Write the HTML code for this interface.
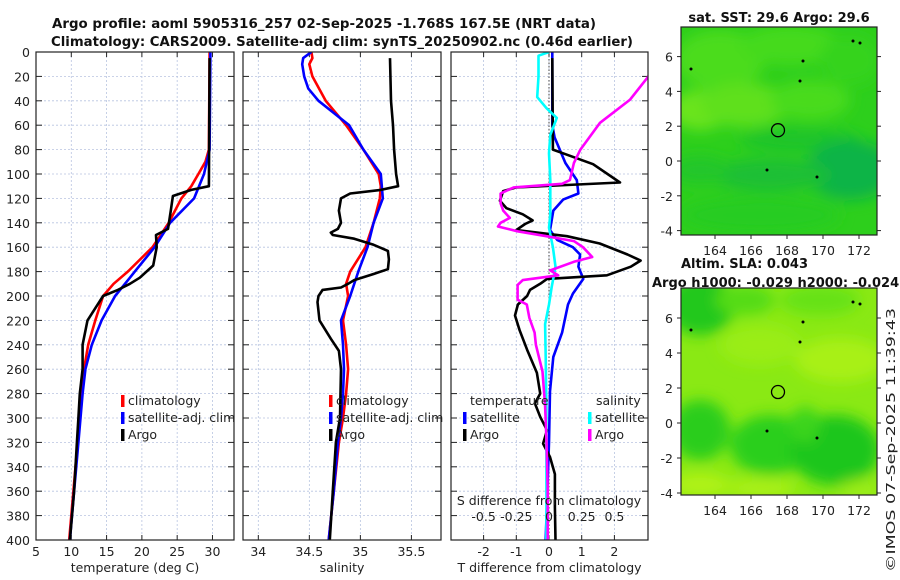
<!DOCTYPE html>
<html><head><meta charset="utf-8">
<style>
html,body{margin:0;padding:0;background:#fff;}
svg{display:block;font-family:"DejaVu Sans","Liberation Sans",sans-serif;}
.t{font-size:12.5px;fill:#222;}
.b{font-weight:bold;font-size:13px;fill:#111;}
</style></head><body>
<svg id="fig" width="900" height="580" viewBox="0 0 900 580" xmlns="http://www.w3.org/2000/svg">
<defs>
<clipPath id="c1"><rect x="36" y="52" width="198" height="488"/></clipPath>
<clipPath id="c2"><rect x="243" y="52" width="198" height="488"/></clipPath>
<clipPath id="c3"><rect x="451" y="52" width="197" height="488"/></clipPath>
<clipPath id="cm1"><rect x="681" y="27" width="196" height="208"/></clipPath>
<clipPath id="cm2"><rect x="681" y="288" width="196" height="207"/></clipPath>
<filter id="blur" x="-20%" y="-20%" width="140%" height="140%"><feGaussianBlur stdDeviation="7"/></filter>
</defs>
<text class="b" x="324" y="28" text-anchor="middle" textLength="544" lengthAdjust="spacingAndGlyphs">Argo profile: aoml 5905316_257 02-Sep-2025 -1.768S 167.5E (NRT data)</text>
<text class="b" x="342" y="46" text-anchor="middle" textLength="582" lengthAdjust="spacingAndGlyphs">Climatology: CARS2009. Satellite-adj clim: synTS_20250902.nc (0.46d earlier)</text>
<g id="maps"></g>
<g id="g"></g>
<text class="t" transform="translate(895,440) rotate(-90)" text-anchor="middle" textLength="264" lengthAdjust="spacingAndGlyphs">©IMOS 07-Sep-2025 11:39:43</text>
</svg>
<script>
// ---- data ----
const depthTicks=[0,20,40,60,80,100,120,140,160,180,200,220,240,260,280,300,320,340,360,380,400];
const tTicks=[5,10,15,20,25,30];
const sTicks=[34,34.5,35,35.5];
const sTickLabels=["34","34.5","35","35.5"];
const dTTicks=[-2,-1,0,1,2];
const dSTicks=[-0.5,-0.25,0,0.25,0.5];
const dSTickLabels=["-0.5","-0.25","0","0.25","0.5"];
// temperature
const climTDepth=[0,80,90,100,110,120,140,160,180,190,200,220,240,260,280,320,360,400];
const climT=[29.6,29.5,29.0,28.0,27.0,25.6,23.8,21.5,18.0,16.0,14.5,13.4,12.4,11.8,11.5,10.9,10.3,9.7];
const satTDepth=[0,80,100,120,140,160,180,200,220,240,260,280,320,360,400];
const satT=[29.7,29.6,28.8,27.4,24.0,21.8,19.0,16.2,14.3,12.9,12.0,11.6,11.0,10.4,9.8];
const argoTDepth=[5,110,113,118,130,145,150,160,175,185,190,195,200,210,220,240,260,280,300,320,360,400];
const argoT=[29.6,29.5,27.0,24.4,24.1,23.7,22.0,22.1,21.6,19.7,18.3,16.6,14.5,13.4,12.3,11.6,11.6,11.2,11.0,10.8,10.4,9.8];
// salinity
const climSDepth=[0,5,10,20,40,60,80,100,110,120,140,160,180,190,200,220,240,260,280,300,320,360,400];
const climS=[34.52,34.53,34.50,34.53,34.66,34.86,35.03,35.18,35.20,35.19,35.13,35.05,34.90,34.86,34.88,34.83,34.86,34.88,34.86,34.83,34.79,34.74,34.69];
const satSDepth=[0,5,10,20,30,40,50,60,80,100,120,140,160,180,200,220,240,260,280,300,320,360,400];
const satS=[34.52,34.44,34.43,34.45,34.49,34.59,34.74,34.89,35.03,35.20,35.22,35.13,35.07,34.98,34.90,34.81,34.83,34.84,34.83,34.81,34.78,34.74,34.69];
const argoSDepth=[5,40,60,80,100,110,113,116,120,130,140,145,148,150,153,158,163,170,178,182,187,190,193,195,200,205,220,235,245,260,300,320,360,400];
const argoS=[35.29,35.30,35.32,35.33,35.35,35.37,35.20,34.90,34.81,34.79,34.81,34.78,34.71,34.73,34.94,35.13,35.27,35.28,35.27,35.13,34.94,34.88,34.81,34.63,34.59,34.58,34.60,34.71,34.79,34.81,34.80,34.76,34.73,34.70];
// differences
const satDTDepth=[0,60,70,91,105,116,121,130,146,154,160,166,176,186,198,207,230,250,278,320,400];
const satDT=[0.1,0.1,0.17,0.5,0.85,0.9,0.43,0.13,0.03,0.25,0.73,0.95,0.9,1.05,0.73,0.58,0.4,0.13,0.03,0,-0.1];
const argoDTDepth=[5,80,83,92,107,109,111,114,122,128,133,138,141,146,151,157,166,171,176,183,186,190,195,200,207,216,228,244,263,280,288,299,310,321,332,346,373,400];
const argoDT=[0.1,0.12,0.43,1.35,2.17,0.55,-1.0,-1.4,-1.5,-1.3,-0.8,-0.5,-0.73,-1.0,0.55,1.55,2.4,2.8,2.5,1.77,-0.06,-0.27,-0.58,-0.67,-0.95,-1.04,-0.9,-0.67,-0.37,-0.27,-0.43,-0.27,-0.06,-0.18,0.03,0.18,0.18,0.2];
const satDSDepth=[0,3,20,37,46,54,68,83,105,133,144,160,176,193,207,223,250,291,373,400];
const satDS=[0,-0.08,-0.08,-0.09,-0.02,0.06,0.01,0,0.01,0.01,0,0.03,0.05,0.02,0,-0.03,-0.025,-0.02,-0.02,-0.02];
const argoDSDepth=[5,20,39,58,80,91,105,108,111,116,124,130,136,140,143,147,151,155,160,168,172,179,183,187,191,203,207,218,230,240,262,290,317,358,400];
const argoDS=[0.8,0.76,0.62,0.39,0.24,0.19,0.16,0.1,-0.27,-0.37,-0.37,-0.35,-0.3,-0.37,-0.39,-0.24,-0.02,0.19,0.26,0.33,0.19,0.01,0.07,-0.2,-0.24,-0.24,-0.17,-0.15,-0.11,-0.1,-0.05,-0.03,-0.02,-0.01,-0.01];
// map axes
const lonTicks=[164,166,168,170,172];
const latTicks=[-4,-2,0,2,4,6];
const argoLon=167.5, argoLat=1.77;

// ---- scales ----
const NS="http://www.w3.org/2000/svg";
const g=document.getElementById('g');
const Y0=52,Y1=540;
const yD=d=>Y0+(d/400)*(Y1-Y0);
const xT=v=>36+(v-5)*(198/28.05);
const xS=v=>243+(v-33.85)*(198/1.94);
const xDT=v=>549+v*32.7;
const xDS=v=>549+v*130.8;
const xLon=v=>715+(v-164)*18;
const yLat1=v=>161-v*17.4;
const yLat2=v=>423-v*17.5;
function el(tag,attrs,parent){const e=document.createElementNS(NS,tag);for(const k in attrs)e.setAttribute(k,attrs[k]);(parent||g).appendChild(e);return e;}
function txt(s,x,y,anchor,parent,cls){const e=el('text',{x:x,y:y,'text-anchor':anchor||'middle','class':cls||'t'},parent);e.textContent=s;return e;}

function panel(x0,w,xf,ticks,labels,clip,title,name){
  const pg=el('g',{});
  
  
  depthTicks.forEach(d=>{el('line',{x1:x0,x2:x0+w,y1:yD(d),y2:yD(d),stroke:'#b8c4e0','stroke-width':0.8,'stroke-dasharray':'2,2'},pg);});
  ticks.forEach(v=>{el('line',{x1:xf(v),x2:xf(v),y1:Y0,y2:Y1,stroke:'#b8c4e0','stroke-width':0.8,'stroke-dasharray':'2,2'},pg);});
  depthTicks.forEach(d=>{el('line',{x1:x0,x2:x0+6,y1:yD(d),y2:yD(d),stroke:'#222'},pg);el('line',{x1:x0+w-6,x2:x0+w,y1:yD(d),y2:yD(d),stroke:'#222'},pg);});
  ticks.forEach((v,i)=>{el('line',{x1:xf(v),x2:xf(v),y1:Y1,y2:Y1-5,stroke:'#222'},pg);el('line',{x1:xf(v),x2:xf(v),y1:Y0,y2:Y0+5,stroke:'#222'},pg);
    const l=txt(labels[i],xf(v),556,'middle',pg);
    
    });
  const t=txt(title,x0+w/2,572,'middle',pg);
  
  
  return pg;
}
function series(depths,vals,xf,color,clip,name,parent){
  let d='';depths.forEach((dep,i)=>{d+=(i?'L':'M')+xf(vals[i]).toFixed(1)+','+yD(dep).toFixed(1);});
  const p=el('path',{d:d,fill:'none',stroke:color,'stroke-width':2.6,'stroke-linejoin':'round','clip-path':'url(#'+clip+')'},parent);
  
  
}
function frame(x0,w,pg){el('rect',{x:x0,y:Y0,width:w,height:Y1-Y0,fill:'none',stroke:'#222','stroke-width':1.2},pg);}
function legendItem(x,y,color,label,pg,name){
  el('rect',{x:x-2,y:y-10,width:3.5,height:12,fill:color},pg);
  const t=txt(label,x+5,y,'start',pg);
  
  
}

depthTicks.forEach(d=>{const t=txt(String(d),30,yD(d)+5,'end');
  
  });

// Panel 1
const p1=panel(36,198,xT,tTicks,tTicks.map(String),'c1','temperature (deg C)','temperature-panel');
series(climTDepth,climT,xT,'#ff0000','c1','clim-temperature-line',p1);
series(satTDepth,satT,xT,'#0000ff','c1','sat-temperature-line',p1);
series(argoTDepth,argoT,xT,'#000000','c1','argo-temperature-line',p1);
frame(36,198,p1);
legendItem(123,405,'#ff0000','climatology',p1,'legend-climatology');
legendItem(123,422,'#0000ff','satellite-adj. clim',p1,'legend-satellite');
legendItem(123,439,'#000000','Argo',p1,'legend-argo');

// Panel 2
const p2=panel(243,198,xS,sTicks,sTickLabels,'c2','salinity','salinity-panel');
series(climSDepth,climS,xS,'#ff0000','c2','clim-salinity-line',p2);
series(satSDepth,satS,xS,'#0000ff','c2','sat-salinity-line',p2);
series(argoSDepth,argoS,xS,'#000000','c2','argo-salinity-line',p2);
frame(243,198,p2);
legendItem(331,405,'#ff0000','climatology',p2,'legend-climatology');
legendItem(331,422,'#0000ff','satellite-adj. clim',p2,'legend-satellite');
legendItem(331,439,'#000000','Argo',p2,'legend-argo');

// Panel 3
const p3=panel(451,197,xDT,dTTicks,dTTicks.map(String),'c3','T difference from climatology','difference-panel');
el('line',{x1:xDT(0),x2:xDT(0),y1:Y0,y2:Y1,stroke:'#444','stroke-width':1,'stroke-dasharray':'1.5,2'},p3);
series(satDTDepth,satDT,xDT,'#0000ff','c3','sat-temp-diff-line',p3);
series(argoDTDepth,argoDT,xDT,'#000000','c3','argo-temp-diff-line',p3);
series(satDSDepth,satDS,xDS,'#00ffff','c3','sat-sal-diff-line',p3);
series(argoDSDepth,argoDS,xDS,'#ff00ff','c3','argo-sal-diff-line',p3);
frame(451,197,p3);
let tt=txt('temperature',470,405,'start',p3);
legendItem(465,422,'#0000ff','satellite',p3,'legend-temp-satellite');
legendItem(465,439,'#000000','Argo',p3,'legend-temp-argo');
let ts=txt('salinity',596,405,'start',p3);
legendItem(590,422,'#00ffff','satellite',p3,'legend-sal-satellite');
legendItem(590,439,'#ff00ff','Argo',p3,'legend-sal-argo');
let st=txt('S difference from climatology',549,505,'middle',p3);
dSTicks.forEach((v,i)=>{const l=txt(dSTickLabels[i],xDS(v),521,'middle',p3);
  
  });

// ---- maps ----
const mg=document.getElementById('maps');
function map(y0,h,yLat,clip,base,blobs,name,cdots){
  const m=el('g',{},mg);
  
  
  el('rect',{x:681,y:y0,width:196,height:h,fill:base},m);
  const bg=el('g',{'clip-path':'url(#'+clip+')'},m);
  const inner=el('g',{filter:'url(#blur)'},bg);
  blobs.forEach(b=>el('ellipse',{cx:b[0],cy:b[1],rx:b[2],ry:b[3],fill:b[4]},inner));
  cdots.forEach(c=>el('circle',{cx:c[0],cy:c[1],r:1.5,fill:'#000'},bg));
  const c=el('circle',{cx:xLon(argoLon),cy:yLat(argoLat),r:6.5,fill:'none',stroke:'#000','stroke-width':1.3},m);
  
  
  el('rect',{x:681,y:y0,width:196,height:h,fill:'none',stroke:'#222','stroke-width':1.2},m);
  lonTicks.forEach(v=>{el('line',{x1:xLon(v),x2:xLon(v),y1:y0+h,y2:y0+h+4,stroke:'#222'},m);
    const l=txt(String(v),xLon(v),y0+h+20,'middle',m);
    
    });
  latTicks.forEach(v=>{el('line',{x1:677,x2:681,y1:yLat(v),y2:yLat(v),stroke:'#222'},m);el('line',{x1:877,x2:881,y1:yLat(v),y2:yLat(v),stroke:'#222'},m);
    const l=txt(String(v),673,yLat(v)+5,'end',m);
    
    });
}
map(27,208,yLat1,'cm1','#2dcf1c',[
 [720,60,45,30,'#4cdc1a'],[790,45,50,20,'#45da1a'],[700,110,30,20,'#6ae41a'],[745,105,45,22,'#5ee01a'],[810,100,40,20,'#49db1a'],
 [850,60,30,25,'#35d31c'],[800,140,60,12,'#1fc42a'],[850,170,45,30,'#10b446'],[770,175,60,16,'#1abf34'],[700,170,30,14,'#22c62a'],
 [760,215,80,18,'#26cc20']
],'sst-map',[[691,69],[853,41],[860,43],[803,61],[767,170],[817,177],[800,81]]);
map(288,207,yLat2,'cm2','#8ae914',[
 [700,305,35,30,'#22c81c'],[745,300,30,15,'#55dc18'],[820,300,40,15,'#66e216'],[760,345,40,20,'#9aed12'],[840,360,45,22,'#a8f012'],
 [700,430,30,30,'#2ccd1c'],[770,445,40,30,'#2ccf1c'],[835,450,45,35,'#1fc61c'],[805,425,15,18,'#3ad41a'],
 [700,485,30,12,'#b0f212'],[760,488,35,10,'#aaf012'],[860,490,20,10,'#9ced12']
],'sla-map',[[691,330],[853,302],[860,304],[803,322],[767,431],[817,438],[800,342]]);
let m1=txt('sat. SST: 29.6 Argo: 29.6',779,22,'middle',mg,'b');
let m2=txt('Altim. SLA: 0.043',681,268,'start',mg,'b');
let m3=txt('Argo h1000: -0.029 h2000: -0.024',652,287,'start',mg,'b');
</script>
</body></html>
